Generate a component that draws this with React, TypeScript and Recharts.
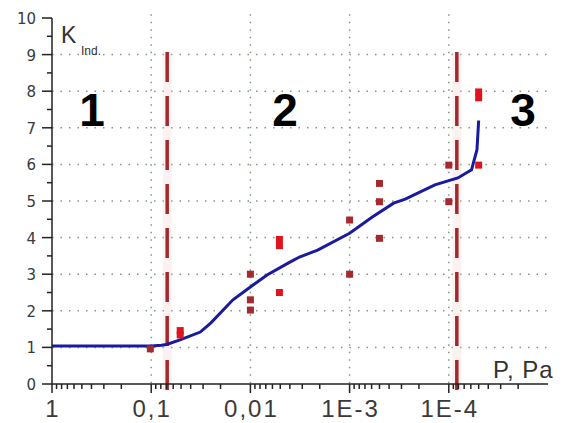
import React from "react";
import { ComposedChart, Line, Scatter, XAxis, YAxis, ReferenceLine } from "recharts";

// Pressure P (Pa) and coefficient K_ind along the fitted curve
const linePressure = [1, 0.316, 0.1, 0.079, 0.07, 0.052, 0.032, 0.025, 0.015, 0.01, 0.0068, 0.004, 0.0032, 0.0021, 0.001, 5.9e-4, 3.6e-4, 2.75e-4, 1.38e-4, 8.1e-5, 5.9e-5, 5.2e-5, 5.0e-5];
const lineK = [1.04, 1.04, 1.04, 1.06, 1.08, 1.2, 1.42, 1.67, 2.3, 2.65, 2.98, 3.33, 3.47, 3.66, 4.12, 4.56, 4.94, 5.05, 5.44, 5.63, 5.85, 6.4, 7.2];

// measured points (bright red)
const brightP = [0.051, 0.051, 0.0051, 0.0051, 0.0051, 5e-5, 5e-5, 5e-5];
const brightK = [1.46, 1.34, 3.95, 3.78, 2.5, 7.98, 7.82, 5.98];
// measured points (dark red)
const darkP = [0.102, 0.01, 0.01, 0.01, 0.001, 0.001, 5e-4, 5e-4, 5e-4, 1.0e-4, 1.0e-4];
const darkK = [0.96, 3.0, 2.3, 2.02, 4.48, 3.0, 5.48, 4.98, 3.98, 5.98, 4.98];

// region boundaries (pressure)
const boundaries = [0.069, 8.3e-5];

// axes
const xMajorTicks = [1, 0.1, 0.01, 1e-3, 1e-4, 1e-5];
const xTickLabels = ["1", "0,1", "0,01", "1E-3", "1E-4", "1E-5"];
const yMajorTicks = [0, 1, 2, 3, 4, 5, 6, 7, 8, 9, 10];
const gridY = [1, 2, 3, 4, 5, 6, 7, 8, 9];
const gridX = [0.1, 0.01, 1e-3, 1e-4];

const lineData = linePressure.map((p, i) => ({ p, k: lineK[i] }));
const brightData = brightP.map((p, i) => ({ p, k: brightK[i] }));
const darkData = darkP.map((p, i) => ({ p, k: darkK[i] }));

const xTicks: number[] = [];
for (let e = 0; e > -5; e--) {
  for (let m = 10; m >= 2; m--) {
    xTicks.push(Number((m * Math.pow(10, e - 1)).toPrecision(6)));
  }
}
xTicks.unshift(1);
const xTicksUnique = Array.from(new Set(xTicks)).sort((a, b) => b - a);

const yTicks: number[] = [];
for (let v = 0; v <= 10; v += 0.5) yTicks.push(v);

const isMajorX = (v: number) => {
  const lg = Math.log10(v);
  return Math.abs(lg - Math.round(lg)) < 1e-6;
};

const XTick = (props: any) => {
  const { x, y, payload } = props;
  const v = payload.value;
  const major = isMajorX(v);
  let label = "";
  if (major) {
    const idx = xMajorTicks.findIndex((t) => Math.abs(Math.log10(t) - Math.log10(v)) < 1e-6);
    label = idx >= 0 ? xTickLabels[idx] : "";
  }
  return (
    <g>
      <line x1={x} y1={y} x2={x} y2={y + (major ? 9 : 5)} stroke="#222" strokeWidth={1.5} />
      {major && (
        <text x={x + 1} y={y + 33} textAnchor="middle" fontFamily="Liberation Sans, Arial, sans-serif" fontSize={24} letterSpacing={2} fill="#3a3a3a">
          {label}
        </text>
      )}
    </g>
  );
};

const YTick = (props: any) => {
  const { x, y, payload } = props;
  const v = payload.value;
  const major = yMajorTicks.includes(v);
  return (
    <g>
      <line x1={x - (major ? 10 : 5)} y1={y} x2={x} y2={y} stroke="#222" strokeWidth={1.5} />
      {major && (
        <text x={x - 16} y={y + 6} textAnchor="end" fontFamily="DejaVu Sans, sans-serif" fontSize={15} fill="#3a3a3a">
          {v}
        </text>
      )}
    </g>
  );
};

const Square = (props: any) => {
  const { cx, cy, fill } = props;
  if (cx == null || cy == null) return null;
  return <rect x={cx - 3.5} y={cy - 3.5} width={7} height={7} fill={fill} />;
};

const gridColor = "#7f9a7f";

export default function App() {
  return (
    <div style={{ position: "absolute", left: 0, top: 0, width: 584, height: 423, background: "#fff" }}>
      <ComposedChart width={584} height={423} margin={{ top: 18, right: 36, bottom: 0, left: 0 }}>
        <XAxis
          dataKey="p"
          type="number"
          scale="log"
          domain={[1e-5, 1]}
          reversed
          allowDataOverflow
          ticks={xTicksUnique}
          interval={0}
          tick={<XTick />}
          tickLine={false}
          tickSize={0}
          tickMargin={0}
          height={39}
          axisLine={{ stroke: "#222", strokeWidth: 1.5 }}
        />
        <YAxis
          dataKey="k"
          type="number"
          domain={[0, 10]}
          ticks={yTicks}
          interval={0}
          tick={<YTick />}
          tickLine={false}
          tickSize={0}
          tickMargin={0}
          width={52}
          axisLine={{ stroke: "#222", strokeWidth: 1.5 }}
          allowDataOverflow
        />
        {gridY.map((g) => (
          <ReferenceLine key={"gy" + g} y={g} stroke={gridColor} strokeDasharray="1.5 7" strokeWidth={1.5} />
        ))}
        {gridX.map((g) => (
          <ReferenceLine
            key={"gx" + g}
            segment={[{ x: g, y: 10.1 }, { x: g, y: 0 }]}
            stroke={gridColor}
            strokeDasharray="1.5 6"
            strokeWidth={1.5}
            ifOverflow="visible"
          />
        ))}
        {boundaries.map((b) => (
          <ReferenceLine
            key={"bg" + b}
            segment={[{ x: b, y: 9.07 }, { x: b, y: -0.2 }]}
            stroke="#f6d0d0"
            strokeWidth={9}
            strokeOpacity={0.3}
            ifOverflow="visible"
          />
        ))}
        {boundaries.map((b) => (
          <ReferenceLine
            key={"b" + b}
            segment={[{ x: b, y: 9.07 }, { x: b, y: -0.2 }]}
            stroke="#a3282c"
            strokeWidth={3.5}
            strokeDasharray="30 14"
            ifOverflow="visible"
          />
        ))}
        <Scatter data={darkData} dataKey="k" fill="#a52a30" shape={<Square />} isAnimationActive={false} />
        <Scatter data={brightData} dataKey="k" fill="#e0141e" shape={<Square />} isAnimationActive={false} />
        <Line data={lineData} dataKey="k" type="linear" stroke="#1a1a9e" strokeWidth={3} dot={false} isAnimationActive={false} />
      </ComposedChart>
      <svg width={584} height={423} style={{ position: "absolute", left: 0, top: 0, pointerEvents: "none" }}>
        <text x={61} y={43} fontFamily="Liberation Sans, Arial, sans-serif" fontSize={23} fill="#333">K</text>
        <text x={81} y={55} fontFamily="Liberation Sans, Arial, sans-serif" fontSize={12} fill="#333">Ind.</text>
        <text x={493} y={378} fontFamily="Liberation Sans, Arial, sans-serif" fontSize={24} letterSpacing={1} fill="#333">P, Pa</text>
        <text x={92} y={126} textAnchor="middle" fontFamily="Liberation Sans, Arial, sans-serif" fontWeight="bold" fontSize={46} fill="#000">1</text>
        <text x={285} y={126} textAnchor="middle" fontFamily="Liberation Sans, Arial, sans-serif" fontWeight="bold" fontSize={46} fill="#000">2</text>
        <text x={523} y={126} textAnchor="middle" fontFamily="Liberation Sans, Arial, sans-serif" fontWeight="bold" fontSize={46} fill="#000">3</text>
      </svg>
    </div>
  );
}
